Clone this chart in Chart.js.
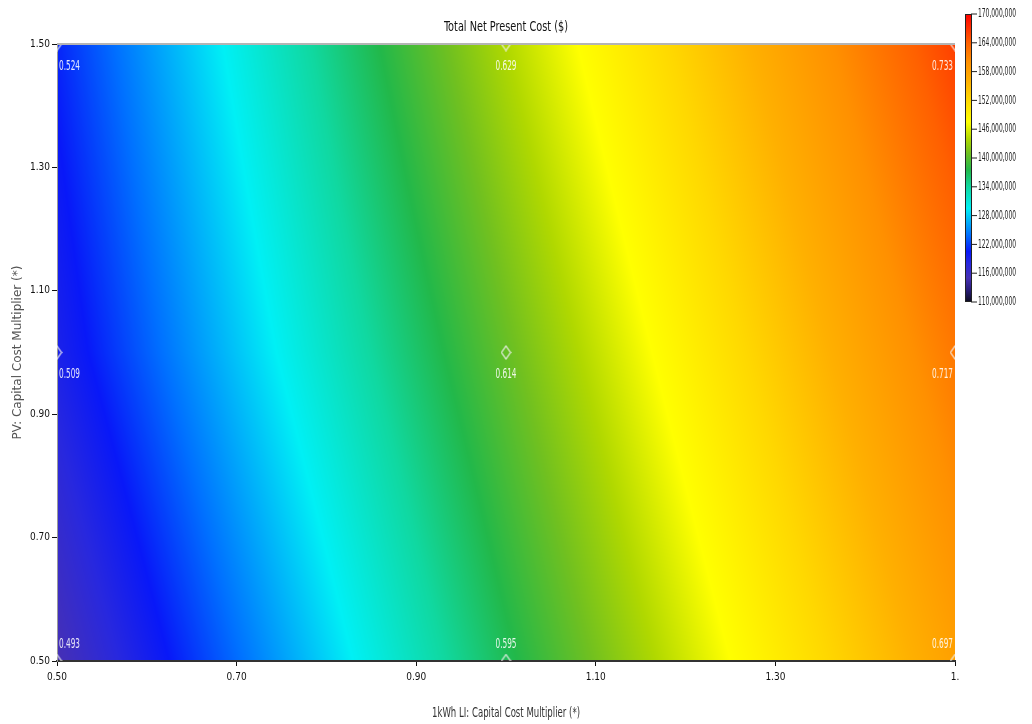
<!DOCTYPE html>
<html>
<head>
<meta charset="utf-8">
<script src="https://cdn.jsdelivr.net/npm/chart.js@4.4.1/dist/chart.umd.min.js"></script>
<style>
  html, body { margin: 0; padding: 0; background: #fff; }
  #wrap { width: 1032px; height: 724px; position: relative; }
</style>
</head>
<body>
<div id="wrap"><canvas id="npc-chart"></canvas></div>
<script>
// sensitivity grid: 1kWh LI multiplier (x) vs PV multiplier (y)
const xValues = [0.50, 1.00, 1.50];
const yValues = [0.50, 1.00, 1.50];
// total NPC in $ millions, one row per PV multiplier (bottom -> top)
const npcRows = [
    [115, 137, 158],
    [119, 140.5, 162],
    [121, 144, 166]
];
// values written next to each grid point
const pointLabels = [
    ['0.493', '0.595', '0.697'],
    ['0.509', '0.614', '0.717'],
    ['0.524', '0.629', '0.733']
];
const xTickValues = [0.5, 0.7, 0.9, 1.1, 1.3, 1.5];
const xTickLabels = ['0.50', '0.70', '0.90', '1.10', '1.30', '1.'];
const yTickValues = [0.5, 0.7, 0.9, 1.1, 1.3, 1.5];
const yTickLabels = ['0.50', '0.70', '0.90', '1.10', '1.30', '1.50'];
const legendTicks = [110, 116, 122, 128, 134, 140, 146, 152, 158, 164, 170];

const narrow = '"Liberation Sans Narrow", "DejaVu Sans Condensed", "Liberation Sans", sans-serif';

// colour ramp ($M -> rgb)
const colorStops = [
    [110, [12, 12, 30]],
    [112.5, [40, 28, 120]],
    [115, [70, 48, 180]],
    [118, [40, 40, 222]],
    [120.5, [8, 24, 248]],
    [124, [0, 112, 255]],
    [129.5, [0, 240, 245]],
    [134, [16, 216, 160]],
    [137.5, [34, 184, 74]],
    [141, [112, 192, 32]],
    [144, [176, 216, 0]],
    [147.5, [255, 255, 0]],
    [152, [255, 216, 0]],
    [156, [255, 176, 0]],
    [160, [255, 144, 0]],
    [164, [255, 96, 0]],
    [167, [255, 48, 0]],
    [170, [255, 0, 0]]
];

const colorFor = (v) => {
    if (v <= colorStops[0][0]) return colorStops[0][1];
    for (let i = 1; i < colorStops.length; i++) {
        const [v1, c1] = colorStops[i];
        if (v <= v1) {
            const [v0, c0] = colorStops[i - 1];
            const t = (v - v0) / (v1 - v0);
            return [0, 1, 2].map(k => Math.round(c0[k] + (c1[k] - c0[k]) * t));
        }
    }
    return colorStops[colorStops.length - 1][1];
};

const bracket = (arr, v) => {
    let i = 0;
    while (i < arr.length - 2 && v > arr[i + 1]) i++;
    const t = Math.min(1, Math.max(0, (v - arr[i]) / (arr[i + 1] - arr[i])));
    return [i, t];
};

const npcAt = (xv, yv) => {
    const [i, tx] = bracket(xValues, xv);
    const [j, ty] = bracket(yValues, yv);
    const r0 = npcRows[j][i] * (1 - tx) + npcRows[j][i + 1] * tx;
    const r1 = npcRows[j + 1][i] * (1 - tx) + npcRows[j + 1][i + 1] * tx;
    return r0 * (1 - ty) + r1 * ty;
};

// text squeezed to a given width (the original uses a very narrow face)
const squeezeText = (ctx, text, x, y, width) => {
    const w = ctx.measureText(text).width;
    const sx = Math.min(1, width / w);
    ctx.save();
    ctx.translate(x, y);
    ctx.scale(sx, 1);
    ctx.fillText(text, 0, 0);
    ctx.restore();
};

// diamond marker
const diamond = document.createElement('canvas');
diamond.width = 11;
diamond.height = 15;
const dctx = diamond.getContext('2d');
dctx.strokeStyle = 'rgba(240,240,240,0.95)';
dctx.lineWidth = 1.2;
dctx.beginPath();
dctx.moveTo(5.5, 1);
dctx.lineTo(10, 7.5);
dctx.lineTo(5.5, 14);
dctx.lineTo(1, 7.5);
dctx.closePath();
dctx.stroke();

const points = [];
yValues.forEach((yv, j) => {
    xValues.forEach((xv, i) => {
        points.push({ x: xv, y: yv, label: pointLabels[j][i] });
    });
});

// paints the interpolated surface under everything else
const surfacePlugin = {
    id: 'surface',
    beforeDraw(chart) {
        const { ctx, chartArea: a, scales: { x, y } } = chart;
        const w = Math.round(a.right - a.left), h = Math.round(a.bottom - a.top);
        if (!chart.$surface || chart.$surface.width !== w || chart.$surface.height !== h) {
            const off = document.createElement('canvas');
            off.width = w;
            off.height = h;
            const octx = off.getContext('2d');
            const img = octx.createImageData(w, h);
            for (let j = 0; j < h; j++) {
                const yv = y.getValueForPixel(a.top + j + 0.5);
                for (let i = 0; i < w; i++) {
                    const xv = x.getValueForPixel(a.left + i + 0.5);
                    const c = colorFor(npcAt(xv, yv));
                    const k = (j * w + i) * 4;
                    img.data[k] = c[0];
                    img.data[k + 1] = c[1];
                    img.data[k + 2] = c[2];
                    img.data[k + 3] = 255;
                }
            }
            octx.putImageData(img, 0, 0);
            chart.$surface = off;
        }
        ctx.drawImage(chart.$surface, a.left, a.top);
    }
};

const labelPlugin = {
    id: 'pointLabels',
    afterDatasetsDraw(chart) {
        const { ctx, chartArea: a } = chart;
        const meta = chart.getDatasetMeta(0);
        ctx.save();
        ctx.font = '14px ' + narrow;
        ctx.fillStyle = 'rgba(255,255,255,0.88)';
        ctx.textBaseline = 'middle';
        meta.data.forEach((pt, k) => {
            const d = chart.data.datasets[0].data[k];
            let lx = pt.x, align = 'center';
            if (pt.x - a.left < 20) { lx = a.left + 2; align = 'left'; }
            else if (a.right - pt.x < 20) { lx = a.right - 2; align = 'right'; }
            const ly = Math.min(pt.y + 22, a.bottom - 17);
            ctx.textAlign = align;
            squeezeText(ctx, d.label, lx, ly, 21);
        });
        // top frame line
        ctx.strokeStyle = '#b4b4b4';
        ctx.lineWidth = 2;
        ctx.beginPath();
        ctx.moveTo(a.left, a.top);
        ctx.lineTo(a.right, a.top);
        ctx.stroke();
        ctx.restore();
    }
};

// titles + colour legend
const framePlugin = {
    id: 'frame',
    afterDraw(chart) {
        const { ctx, chartArea: a } = chart;
        const cx = (a.left + a.right) / 2;
        ctx.save();
        ctx.textAlign = 'center';
        ctx.textBaseline = 'middle';
        ctx.font = '14px ' + narrow;
        ctx.fillStyle = '#111';
        squeezeText(ctx, 'Total Net Present Cost ($)', cx, 27, 124);
        ctx.font = '14px ' + narrow;
        ctx.fillStyle = '#333';
        squeezeText(ctx, '1kWh LI: Capital Cost Multiplier (*)', cx, 713, 148);

        const bx = 965, bw = 7, top = 14, bottom = 302;
        const lo = legendTicks[0], hi = legendTicks[legendTicks.length - 1];
        const grad = ctx.createLinearGradient(0, bottom, 0, top);
        colorStops.forEach(([v, c]) => {
            grad.addColorStop((v - lo) / (hi - lo), `rgb(${c[0]},${c[1]},${c[2]})`);
        });
        ctx.fillStyle = grad;
        ctx.fillRect(bx, top, bw, bottom - top);
        ctx.strokeStyle = '#222';
        ctx.lineWidth = 1;
        ctx.strokeRect(bx + 0.5, top + 0.5, bw - 1, bottom - top - 1);

        ctx.font = '12px ' + narrow;
        ctx.fillStyle = '#222';
        ctx.textAlign = 'left';
        legendTicks.forEach(v => {
            const ty = bottom - (v - lo) / (hi - lo) * (bottom - top);
            ctx.beginPath();
            ctx.moveTo(bx + bw - 1, ty);
            ctx.lineTo(bx + bw + 5, ty);
            ctx.stroke();
            squeezeText(ctx, (v * 1e6).toLocaleString('en-US'), bx + bw + 6, ty, 38);
        });
        ctx.restore();
    }
};

new Chart(document.getElementById('npc-chart'), {
    type: 'scatter',
    data: {
        datasets: [{
            data: points,
            pointStyle: diamond,
            pointRadius: 6,
            clip: 0
        }]
    },
    options: {
        responsive: true,
        maintainAspectRatio: false,
        animation: false,
        events: [],
        layout: { padding: { top: 44, right: 77, left: 0, bottom: 0 } },
        plugins: {
            legend: { display: false },
            tooltip: { enabled: false }
        },
        scales: {
            x: {
                type: 'linear',
                min: 0.5,
                max: 1.5,
                afterBuildTicks: s => { s.ticks = xTickValues.map(v => ({ value: v })); },
                afterFit: s => { s.height = 63; },
                ticks: {
                    callback: (v, i) => xTickLabels[i],
                    font: { family: narrow, size: 10 },
                    color: '#111',
                    padding: 5,
                    maxRotation: 0,
                    autoSkip: false
                },
                grid: { drawOnChartArea: false, tickLength: 5, color: '#111' },
                border: { color: '#333', width: 2 }
            },
            y: {
                type: 'linear',
                min: 0.5,
                max: 1.5,
                afterBuildTicks: s => { s.ticks = yTickValues.map(v => ({ value: v })); },
                afterFit: s => { s.width = 57; },
                ticks: {
                    callback: (v, i) => yTickLabels[i],
                    font: { family: narrow, size: 10 },
                    color: '#111',
                    padding: 2,
                    autoSkip: false
                },
                grid: { drawOnChartArea: false, tickLength: 5, color: '#111' },
                border: { color: '#9a9a9a', width: 1 },
                title: {
                    display: true,
                    text: 'PV: Capital Cost Multiplier (*)',
                    font: { family: '"DejaVu Sans", sans-serif', size: 12 },
                    color: '#555',
                    padding: { top: 11, bottom: 0 }
                }
            }
        }
    },
    plugins: [surfacePlugin, labelPlugin, framePlugin]
});
</script>
</body>
</html>
